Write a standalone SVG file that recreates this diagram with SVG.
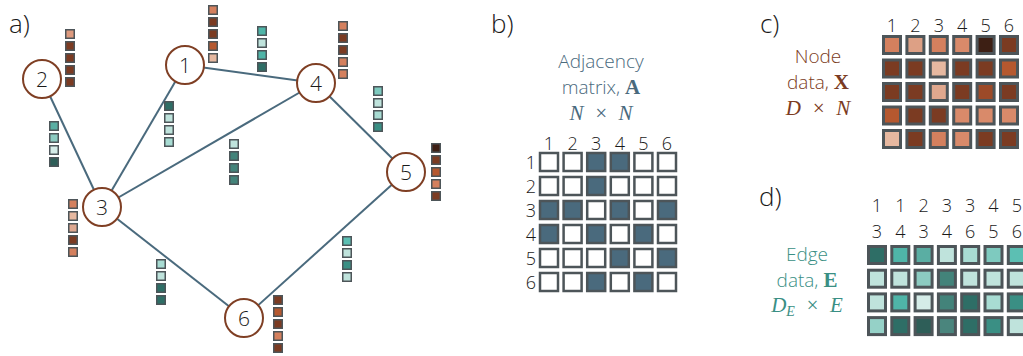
<svg xmlns="http://www.w3.org/2000/svg" width="1023" height="356" viewBox="0 0 1023 356">
<style>
.lbl{font-family:"Open Sans","Noto Sans",sans-serif;font-weight:300;font-size:26px;fill:#1a1a1a}
.num{font-family:"Open Sans","Noto Sans",sans-serif;font-weight:300;font-size:18px;fill:#1a1a1a;text-anchor:middle}
.nt{font-family:"Open Sans","Noto Sans",sans-serif;font-weight:300;font-size:21px;fill:#1a1a1a;text-anchor:middle}
.cap{font-family:"Open Sans","Noto Sans",sans-serif;font-weight:300;font-size:19px;text-anchor:middle}
.bf{font-family:"Liberation Serif",serif;font-weight:700;font-size:21px}
.math{font-family:"Liberation Serif",serif;font-style:italic;font-weight:400;font-synthesis:none;font-size:21px;text-anchor:middle}
.edge{stroke:#4a6a7d;stroke-width:2;fill:none}
.node{fill:#fff;stroke:#7f3f24;stroke-width:2}
.sq{stroke:#4d5559;stroke-width:1.5}
.mb{stroke:#4d5559;stroke-width:2.5}
.mc{stroke:#4d5559;stroke-width:3}
</style>
<defs>
<rect id="s" x="0.75" y="0.75" width="8.5" height="8.5" class="sq"/>
</defs>

<text class="lbl" x="9" y="33">a)</text>
<text class="lbl" x="491" y="33">b)</text>
<text class="lbl" x="760" y="33">c)</text>
<text class="lbl" x="759" y="206">d)</text>

<g id="connectors">
<line class="edge" x1="42" y1="79" x2="102" y2="207"/>
<line class="edge" x1="185" y1="65" x2="102" y2="207"/>
<line class="edge" x1="102" y1="207" x2="316" y2="83"/>
<line class="edge" x1="185" y1="65" x2="316" y2="83"/>
<line class="edge" x1="316" y1="83" x2="406" y2="172"/>
<line class="edge" x1="102" y1="207" x2="244" y2="318"/>
<line class="edge" x1="244" y1="318" x2="406" y2="172"/>
</g>

<g id="node1"><circle class="node" cx="185" cy="65" r="19"/><text class="nt" x="185" y="73">1</text></g>
<g id="node2"><circle class="node" cx="42" cy="79" r="19"/><text class="nt" x="42" y="87">2</text></g>
<g id="node3"><circle class="node" cx="102" cy="207" r="19"/><text class="nt" x="102" y="215">3</text></g>
<g id="node4"><circle class="node" cx="316" cy="83" r="19"/><text class="nt" x="316" y="91">4</text></g>
<g id="node5"><circle class="node" cx="406" cy="172" r="19"/><text class="nt" x="406" y="180">5</text></g>
<g id="node6"><circle class="node" cx="244" cy="318" r="19"/><text class="nt" x="244" y="326">6</text></g>

<!-- node feature stacks -->
<g id="feat1" transform="translate(208,5)">
<use href="#s" fill="#d4805e"/><use href="#s" y="12" fill="#7b3b22"/><use href="#s" y="24" fill="#7b3b22"/><use href="#s" y="36" fill="#b5582f"/><use href="#s" y="48" fill="#e6b8a0"/>
</g>
<g id="feat2" transform="translate(65,29)">
<use href="#s" fill="#dd9a7e"/><use href="#s" y="12" fill="#7b3b22"/><use href="#s" y="24" fill="#7b3b22"/><use href="#s" y="36" fill="#7b3b22"/><use href="#s" y="48" fill="#7b3b22"/>
</g>
<g id="feat3" transform="translate(68,199)">
<use href="#s" fill="#d4805e"/><use href="#s" y="12" fill="#e6b8a0"/><use href="#s" y="24" fill="#dfa890"/><use href="#s" y="36" fill="#7b3b22"/><use href="#s" y="48" fill="#d4805e"/>
</g>
<g id="feat4" transform="translate(338,21)">
<use href="#s" fill="#d4805e"/><use href="#s" y="12" fill="#7b3b22"/><use href="#s" y="24" fill="#7b3b22"/><use href="#s" y="36" fill="#d4805e"/><use href="#s" y="48" fill="#d4805e"/>
</g>
<g id="feat5" transform="translate(431,143)">
<use href="#s" fill="#3d1f14"/><use href="#s" y="12" fill="#7b3b22"/><use href="#s" y="24" fill="#b5582f"/><use href="#s" y="36" fill="#d4805e"/><use href="#s" y="48" fill="#7b3b22"/>
</g>
<g id="feat6" transform="translate(273,295)">
<use href="#s" fill="#7b3b22"/><use href="#s" y="12" fill="#b5582f"/><use href="#s" y="24" fill="#7b3b22"/><use href="#s" y="36" fill="#d4805e"/><use href="#s" y="48" fill="#7b3b22"/>
</g>

<!-- edge feature stacks -->
<g id="efeat13" transform="translate(164,101)">
<use href="#s" fill="#2e6e66"/><use href="#s" y="12" fill="#bfe3dc"/><use href="#s" y="24" fill="#bfe3dc"/><use href="#s" y="36" fill="#a8dcd3"/>
</g>
<g id="efeat14" transform="translate(257,26)">
<use href="#s" fill="#4fb5a8"/><use href="#s" y="12" fill="#bfe3dc"/><use href="#s" y="24" fill="#4fb5a8"/><use href="#s" y="36" fill="#2e6e66"/>
</g>
<g id="efeat23" transform="translate(49,121)">
<use href="#s" fill="#5aaea3"/><use href="#s" y="12" fill="#8ccbc1"/><use href="#s" y="24" fill="#d5ece8"/><use href="#s" y="36" fill="#2e5e58"/>
</g>
<g id="efeat34" transform="translate(229,139)">
<use href="#s" fill="#bfe3dc"/><use href="#s" y="12" fill="#43837a"/><use href="#s" y="24" fill="#43837a"/><use href="#s" y="36" fill="#43837a"/>
</g>
<g id="efeat36" transform="translate(156,259)">
<use href="#s" fill="#a8dcd3"/><use href="#s" y="12" fill="#bfe3dc"/><use href="#s" y="24" fill="#2e6e66"/><use href="#s" y="36" fill="#2e6e66"/>
</g>
<g id="efeat45" transform="translate(373,86)">
<use href="#s" fill="#7ecabf"/><use href="#s" y="12" fill="#bfe3dc"/><use href="#s" y="24" fill="#a8dcd3"/><use href="#s" y="36" fill="#3a8f84"/>
</g>
<g id="efeat56" transform="translate(342,236)">
<use href="#s" fill="#5cbfb3"/><use href="#s" y="12" fill="#bfe3dc"/><use href="#s" y="24" fill="#3a8f84"/><use href="#s" y="36" fill="#bfe3dc"/>
</g>

<!-- panel b -->
<g id="adjacency">
<text class="cap" fill="#4a6a7d" x="601" y="68">Adjacency</text>
<text class="cap" fill="#4a6a7d" x="601" y="94">matrix, <tspan class="bf">A</tspan></text>
<text class="math" fill="#4a6a7d" x="601" y="120">N&#8194;×&#8194;N</text>
<g class="num">
<text x="549" y="150">1</text><text x="572.6" y="150">2</text><text x="596.2" y="150">3</text><text x="619.8" y="150">4</text><text x="643.4" y="150">5</text><text x="667" y="150">6</text>
</g>
<g class="num" style="text-anchor:end">
<text x="536" y="169">1</text><text x="536" y="193">2</text><text x="536" y="217">3</text><text x="536" y="241">4</text><text x="536" y="265">5</text><text x="536" y="289">6</text>
</g>
<g class="mb">
<rect x="540" y="153" width="18" height="18" fill="#fff"/><rect x="563.6" y="153" width="18" height="18" fill="#fff"/><rect x="587.2" y="153" width="18" height="18" fill="#4a6a7d"/><rect x="610.8" y="153" width="18" height="18" fill="#4a6a7d"/><rect x="634.4" y="153" width="18" height="18" fill="#fff"/><rect x="658" y="153" width="18" height="18" fill="#fff"/>
<rect x="540" y="177" width="18" height="18" fill="#fff"/><rect x="563.6" y="177" width="18" height="18" fill="#fff"/><rect x="587.2" y="177" width="18" height="18" fill="#4a6a7d"/><rect x="610.8" y="177" width="18" height="18" fill="#fff"/><rect x="634.4" y="177" width="18" height="18" fill="#fff"/><rect x="658" y="177" width="18" height="18" fill="#fff"/>
<rect x="540" y="201" width="18" height="18" fill="#4a6a7d"/><rect x="563.6" y="201" width="18" height="18" fill="#4a6a7d"/><rect x="587.2" y="201" width="18" height="18" fill="#fff"/><rect x="610.8" y="201" width="18" height="18" fill="#4a6a7d"/><rect x="634.4" y="201" width="18" height="18" fill="#fff"/><rect x="658" y="201" width="18" height="18" fill="#4a6a7d"/>
<rect x="540" y="225" width="18" height="18" fill="#4a6a7d"/><rect x="563.6" y="225" width="18" height="18" fill="#fff"/><rect x="587.2" y="225" width="18" height="18" fill="#4a6a7d"/><rect x="610.8" y="225" width="18" height="18" fill="#fff"/><rect x="634.4" y="225" width="18" height="18" fill="#4a6a7d"/><rect x="658" y="225" width="18" height="18" fill="#fff"/>
<rect x="540" y="249" width="18" height="18" fill="#fff"/><rect x="563.6" y="249" width="18" height="18" fill="#fff"/><rect x="587.2" y="249" width="18" height="18" fill="#fff"/><rect x="610.8" y="249" width="18" height="18" fill="#4a6a7d"/><rect x="634.4" y="249" width="18" height="18" fill="#fff"/><rect x="658" y="249" width="18" height="18" fill="#4a6a7d"/>
<rect x="540" y="273" width="18" height="18" fill="#fff"/><rect x="563.6" y="273" width="18" height="18" fill="#fff"/><rect x="587.2" y="273" width="18" height="18" fill="#4a6a7d"/><rect x="610.8" y="273" width="18" height="18" fill="#fff"/><rect x="634.4" y="273" width="18" height="18" fill="#4a6a7d"/><rect x="658" y="273" width="18" height="18" fill="#fff"/>
</g>
</g>

<!-- panel c -->
<g id="nodedata">
<text class="cap" fill="#7b3b22" x="818" y="63">Node</text>
<text class="cap" fill="#7b3b22" x="818" y="89">data, <tspan class="bf">X</tspan></text>
<text class="math" fill="#7b3b22" x="818" y="115">D&#8194;×&#8194;N</text>
<g class="num">
<text x="892" y="32">1</text><text x="915.4" y="32">2</text><text x="938.8" y="32">3</text><text x="962.2" y="32">4</text><text x="985.6" y="32">5</text><text x="1009" y="32">6</text>
</g>
<g class="mc">
<rect x="883.5" y="36.5" width="17" height="17" fill="#d4805e"/><rect x="906.9" y="36.5" width="17" height="17" fill="#dda085"/><rect x="930.3" y="36.5" width="17" height="17" fill="#d4805e"/><rect x="953.7" y="36.5" width="17" height="17" fill="#d98a6a"/><rect x="977.1" y="36.5" width="17" height="17" fill="#3d1f14"/><rect x="1000.5" y="36.5" width="17" height="17" fill="#7b3b22"/>
<rect x="883.5" y="60" width="17" height="17" fill="#7b3b22"/><rect x="906.9" y="60" width="17" height="17" fill="#7b3b22"/><rect x="930.3" y="60" width="17" height="17" fill="#e6b8a0"/><rect x="953.7" y="60" width="17" height="17" fill="#7b3b22"/><rect x="977.1" y="60" width="17" height="17" fill="#7b3b22"/><rect x="1000.5" y="60" width="17" height="17" fill="#b5582f"/>
<rect x="883.5" y="83.5" width="17" height="17" fill="#7b3b22"/><rect x="906.9" y="83.5" width="17" height="17" fill="#7b3b22"/><rect x="930.3" y="83.5" width="17" height="17" fill="#e0a88e"/><rect x="953.7" y="83.5" width="17" height="17" fill="#7b3b22"/><rect x="977.1" y="83.5" width="17" height="17" fill="#9c4a28"/><rect x="1000.5" y="83.5" width="17" height="17" fill="#7b3b22"/>
<rect x="883.5" y="107" width="17" height="17" fill="#b5582f"/><rect x="906.9" y="107" width="17" height="17" fill="#7b3b22"/><rect x="930.3" y="107" width="17" height="17" fill="#7b3b22"/><rect x="953.7" y="107" width="17" height="17" fill="#d98a6a"/><rect x="977.1" y="107" width="17" height="17" fill="#d98a6a"/><rect x="1000.5" y="107" width="17" height="17" fill="#d98a6a"/>
<rect x="883.5" y="130.5" width="17" height="17" fill="#e6b8a0"/><rect x="906.9" y="130.5" width="17" height="17" fill="#7b3b22"/><rect x="930.3" y="130.5" width="17" height="17" fill="#d4805e"/><rect x="953.7" y="130.5" width="17" height="17" fill="#d98a6a"/><rect x="977.1" y="130.5" width="17" height="17" fill="#7b3b22"/><rect x="1000.5" y="130.5" width="17" height="17" fill="#7b3b22"/>
</g>
</g>

<!-- panel d -->
<g id="edgedata">
<text class="cap" fill="#3a8f84" x="807" y="261">Edge</text>
<text class="cap" fill="#3a8f84" x="807" y="287">data, <tspan class="bf">E</tspan></text>
<text class="math" fill="#3a8f84" x="807" y="312">D<tspan font-size="14" dy="4">E</tspan><tspan dy="-4">&#8194;×&#8194;E</tspan></text>
<g class="num">
<text x="877" y="212">1</text><text x="900.3" y="212">1</text><text x="923.6" y="212">2</text><text x="946.9" y="212">3</text><text x="970.2" y="212">3</text><text x="993.5" y="212">4</text><text x="1016.8" y="212">5</text>
<text x="877" y="238">3</text><text x="900.3" y="238">4</text><text x="923.6" y="238">3</text><text x="946.9" y="238">4</text><text x="970.2" y="238">6</text><text x="993.5" y="238">5</text><text x="1016.8" y="238">6</text>
</g>
<g class="mc">
<rect x="868.5" y="246.5" width="17" height="17" fill="#2e6e66"/><rect x="891.8" y="246.5" width="17" height="17" fill="#4fb5a8"/><rect x="915.1" y="246.5" width="17" height="17" fill="#5aaea3"/><rect x="938.4" y="246.5" width="17" height="17" fill="#bfe3dc"/><rect x="961.7" y="246.5" width="17" height="17" fill="#a8dcd3"/><rect x="985" y="246.5" width="17" height="17" fill="#7ecabf"/><rect x="1008.3" y="246.5" width="17" height="17" fill="#5cbfb3"/>
<rect x="868.5" y="270.2" width="17" height="17" fill="#bfe3dc"/><rect x="891.8" y="270.2" width="17" height="17" fill="#bfe3dc"/><rect x="915.1" y="270.2" width="17" height="17" fill="#8ccbc1"/><rect x="938.4" y="270.2" width="17" height="17" fill="#43837a"/><rect x="961.7" y="270.2" width="17" height="17" fill="#bfe3dc"/><rect x="985" y="270.2" width="17" height="17" fill="#bfe3dc"/><rect x="1008.3" y="270.2" width="17" height="17" fill="#bfe3dc"/>
<rect x="868.5" y="293.9" width="17" height="17" fill="#bfe3dc"/><rect x="891.8" y="293.9" width="17" height="17" fill="#4fb5a8"/><rect x="915.1" y="293.9" width="17" height="17" fill="#d5ece8"/><rect x="938.4" y="293.9" width="17" height="17" fill="#43837a"/><rect x="961.7" y="293.9" width="17" height="17" fill="#2e6e66"/><rect x="985" y="293.9" width="17" height="17" fill="#a8dcd3"/><rect x="1008.3" y="293.9" width="17" height="17" fill="#3a8f84"/>
<rect x="868.5" y="317.6" width="17" height="17" fill="#95d1c7"/><rect x="891.8" y="317.6" width="17" height="17" fill="#2e6e66"/><rect x="915.1" y="317.6" width="17" height="17" fill="#2e5e58"/><rect x="938.4" y="317.6" width="17" height="17" fill="#4a857d"/><rect x="961.7" y="317.6" width="17" height="17" fill="#2e6e66"/><rect x="985" y="317.6" width="17" height="17" fill="#3a8f84"/><rect x="1008.3" y="317.6" width="17" height="17" fill="#bfe3dc"/>
</g>
</g>
</svg>
